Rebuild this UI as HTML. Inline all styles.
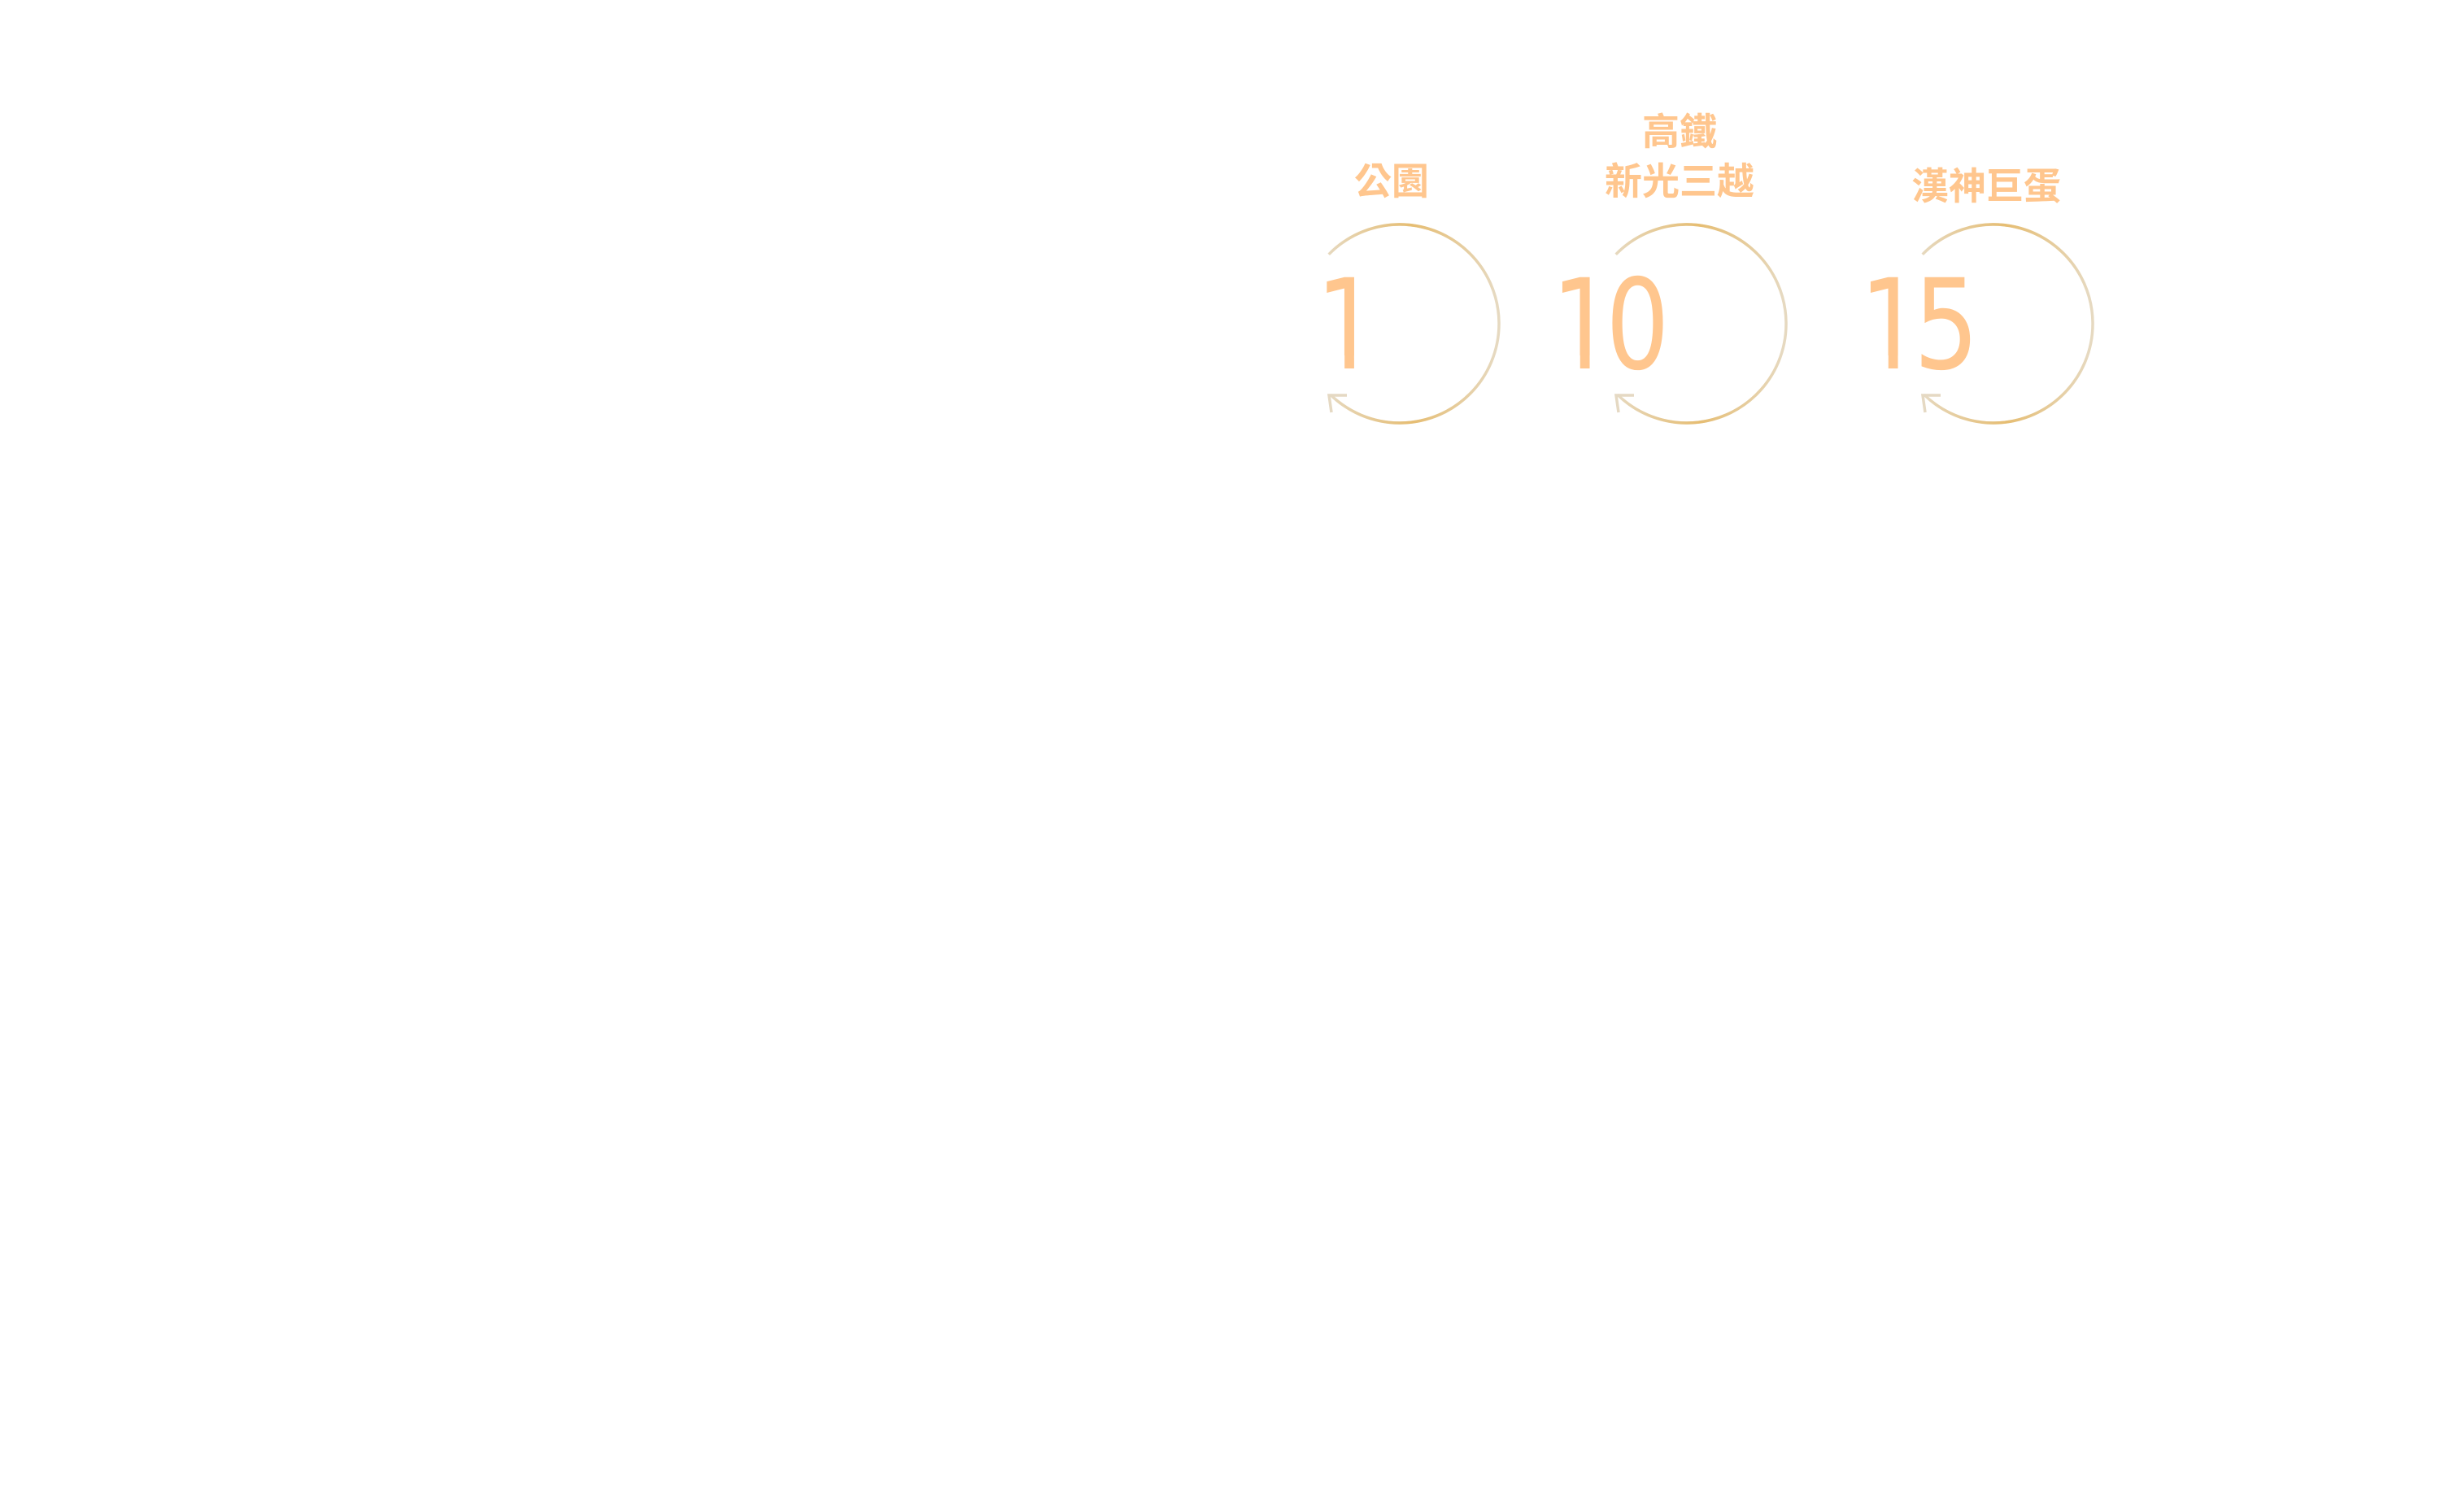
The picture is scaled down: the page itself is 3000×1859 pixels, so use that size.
<!DOCTYPE html>
<html>
<head>
<meta charset="utf-8">
<style>
  html,body{margin:0;padding:0;background:#ffffff;}
  body{width:3000px;height:1859px;overflow:hidden;}
  svg{display:block;}
  .lbl{font-family:"Liberation Sans","Noto Sans CJK TC",sans-serif;font-weight:700;font-size:46px;fill:#ffc68e;}
  .num{font-family:"DejaVu Sans",sans-serif;font-weight:400;font-size:154px;fill:#ffc68e;}
  .unit{font-family:"Liberation Sans","Noto Sans CJK TC",sans-serif;font-size:40px;fill:#ffffff;}
</style>
</head>
<body>
<svg width="3000" height="1859" viewBox="0 0 3000 1859" xmlns="http://www.w3.org/2000/svg">
  <defs>
    <linearGradient id="gTop" gradientUnits="userSpaceOnUse" x1="-90" y1="0" x2="120" y2="0">
      <stop offset="0" stop-color="#e6bd72" stop-opacity="0"/>
      <stop offset="0.5" stop-color="#e6bd72" stop-opacity="1"/>
      <stop offset="1" stop-color="#e6bd72" stop-opacity="0"/>
    </linearGradient>
    <linearGradient id="gBot" gradientUnits="userSpaceOnUse" x1="120" y1="0" x2="-90" y2="0">
      <stop offset="0" stop-color="#e6bd72" stop-opacity="0"/>
      <stop offset="0.5" stop-color="#e6bd72" stop-opacity="1"/>
      <stop offset="1" stop-color="#e6bd72" stop-opacity="0"/>
    </linearGradient>
  </defs>

  <!-- Circle 1 -->
  <g transform="translate(1721,398)" fill="none" stroke-width="3.5">
    <path d="M -87.3 -85.2 A 122 122 0 1 1 -85.3 87.2" stroke="#e6d9c0"/>
    <path d="M -86.3 -86.3 A 122 122 0 0 1 114.6 -41.7" stroke="url(#gTop)"/>
    <path d="M 114.6 41.7 A 122 122 0 0 1 -78.4 93.5" stroke="url(#gBot)"/>
    <path d="M -65 88 L -87 88 L -84 109" stroke="#e5d9c3"/>
  </g>
  <!-- Circle 2 -->
  <g transform="translate(2074,398)" fill="none" stroke-width="3.5">
    <path d="M -87.3 -85.2 A 122 122 0 1 1 -85.3 87.2" stroke="#e6d9c0"/>
    <path d="M -86.3 -86.3 A 122 122 0 0 1 114.6 -41.7" stroke="url(#gTop)"/>
    <path d="M 114.6 41.7 A 122 122 0 0 1 -78.4 93.5" stroke="url(#gBot)"/>
    <path d="M -65 88 L -87 88 L -84 109" stroke="#e5d9c3"/>
  </g>
  <!-- Circle 3 -->
  <g transform="translate(2451,398)" fill="none" stroke-width="3.5">
    <path d="M -87.3 -85.2 A 122 122 0 1 1 -85.3 87.2" stroke="#e6d9c0"/>
    <path d="M -86.3 -86.3 A 122 122 0 0 1 114.6 -41.7" stroke="url(#gTop)"/>
    <path d="M 114.6 41.7 A 122 122 0 0 1 -78.4 93.5" stroke="url(#gBot)"/>
    <path d="M -65 88 L -87 88 L -84 109" stroke="#e5d9c3"/>
  </g>

  <!-- Labels -->
  <text class="lbl" x="1711" y="239" text-anchor="middle">公園</text>
  <text class="lbl" x="2065" y="178" text-anchor="middle">高鐵</text>
  <text class="lbl" x="2065" y="239" text-anchor="middle">新光三越</text>
  <text class="lbl" x="2442" y="245" text-anchor="middle">漢神巨蛋</text>

  <!-- Numbers -->
  <g transform="translate(1657,453) scale(0.8,1)">
    <text class="num" x="0" y="0" text-anchor="middle">1</text>
    <rect x="-46" y="-16" width="41.2" height="20" fill="#ffffff"/>
    <rect x="9.9" y="-16" width="40" height="20" fill="#ffffff"/>
  </g>
  <g transform="translate(1946.6,453) scale(0.8,1)">
    <text class="num" x="0" y="0" text-anchor="middle">1</text>
    <rect x="-46" y="-16" width="41.2" height="20" fill="#ffffff"/>
    <rect x="9.9" y="-16" width="40" height="20" fill="#ffffff"/>
  </g>
  <g transform="translate(2013.5,453) scale(0.8,1)">
    <text class="num" x="0" y="0" text-anchor="middle">0</text>
  </g>
  <g transform="translate(2325.6,453) scale(0.8,1)">
    <text class="num" x="0" y="0" text-anchor="middle">1</text>
    <rect x="-46" y="-16" width="41.2" height="20" fill="#ffffff"/>
    <rect x="9.9" y="-16" width="40" height="20" fill="#ffffff"/>
  </g>
  <g transform="translate(2393,453) scale(0.82,1)">
    <text class="num" x="0" y="0" text-anchor="middle">5</text>
  </g>

  <!-- faint white units (white on white) -->
  <text class="unit" x="1760" y="420" text-anchor="middle">分鐘</text>
  <text class="unit" x="2115" y="420" text-anchor="middle">分鐘</text>
  <text class="unit" x="2490" y="420" text-anchor="middle">分鐘</text>
</svg>
</body>
</html>
